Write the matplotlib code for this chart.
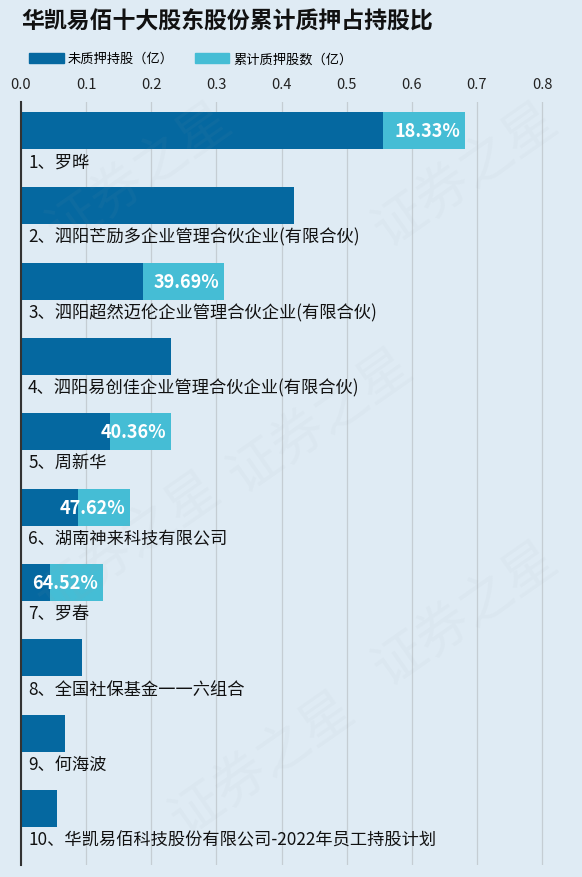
import matplotlib
matplotlib.use('Agg')
import matplotlib.pyplot as plt
from matplotlib.patches import Patch

plt.rcParams['font.family'] = ['Noto Sans CJK SC', 'DejaVu Sans']

title = '华凯易佰十大股东股份累计质押占持股比'
names = ['1、罗晔',
         '2、泗阳芒励多企业管理合伙企业(有限合伙)',
         '3、泗阳超然迈伦企业管理合伙企业(有限合伙)',
         '4、泗阳易创佳企业管理合伙企业(有限合伙)',
         '5、周新华',
         '6、湖南神来科技有限公司',
         '7、罗春',
         '8、全国社保基金一一六组合',
         '9、何海波',
         '10、华凯易佰科技股份有限公司-2022年员工持股计划']
unpledged = [0.556, 0.419, 0.188, 0.230, 0.137, 0.088, 0.0445, 0.094, 0.0675, 0.055]
pledged = [0.125, 0.0, 0.124, 0.0, 0.093, 0.080, 0.081, 0.0, 0.0, 0.0]
pct_labels = ['18.33%', '', '39.69%', '', '40.36%', '47.62%', '64.52%', '', '', '']
xticks = [0.0, 0.1, 0.2, 0.3, 0.4, 0.5, 0.6, 0.7, 0.8]

bg = '#dfebf4'
dark = '#0568a0'
light = '#45bdd5'

fig = plt.figure(figsize=(5.82, 8.78), dpi=100, facecolor=bg)
ax = fig.add_axes([0.036, 0.0137, 0.929, 0.869])
ax.set_facecolor(bg)

# faint watermark
for (wx, wy) in [(0.24, 0.80), (0.55, 0.52), (0.45, 0.13), (0.80, 0.80), (0.80, 0.30), (0.22, 0.38)]:
    fig.text(wx, wy, '证券之星', fontsize=38, color='#9aa7b0', alpha=0.06,
             rotation=35, ha='center', va='center', zorder=0)

y = list(range(len(names)))
ax.barh(y, unpledged, height=0.49, color=dark, zorder=3)
ax.barh(y, pledged, left=unpledged, height=0.49, color=light, zorder=3)

for i in y:
    total = unpledged[i] + pledged[i]
    if pct_labels[i]:
        ax.text(total - 0.007, i, pct_labels[i], ha='right', va='center',
                color='white', fontsize=13, fontweight='bold', zorder=4)
    ax.text(0.011, i + 0.41, names[i], ha='left', va='center',
            color='#111111', fontsize=12.4, zorder=4)

ax.set_xlim(0, 0.83)
ax.set_ylim(9.75, -0.38)
ax.set_xticks(xticks)
ax.set_xticklabels([f'{t:.1f}' for t in xticks])
ax.xaxis.tick_top()
ax.tick_params(axis='x', length=0, labelsize=10.5, pad=8, colors='#222222')
ax.set_yticks([])
ax.grid(axis='x', color='#c5cdd3', linewidth=0.9, zorder=1)
for s in ['top', 'right', 'bottom']:
    ax.spines[s].set_visible(False)
ax.spines['left'].set_color('#333333')
ax.spines['left'].set_linewidth(1.5)
ax.spines['left'].set_zorder(5)

fig.text(0.036, 0.975, title, ha='left', va='center', fontsize=16.5,
         fontweight='bold', color='#111111')

handles = [Patch(color=dark, label='未质押持股（亿）'),
           Patch(color=light, label='累计质押股数（亿）')]
fig.legend(handles=handles, loc='center left', bbox_to_anchor=(0.03, 0.932),
           ncol=2, frameon=False, fontsize=9.5, handlelength=2.6,
           handleheight=0.8, handletextpad=0.3, columnspacing=1.6)

fig.savefig('out.png', dpi=100, facecolor=bg)
